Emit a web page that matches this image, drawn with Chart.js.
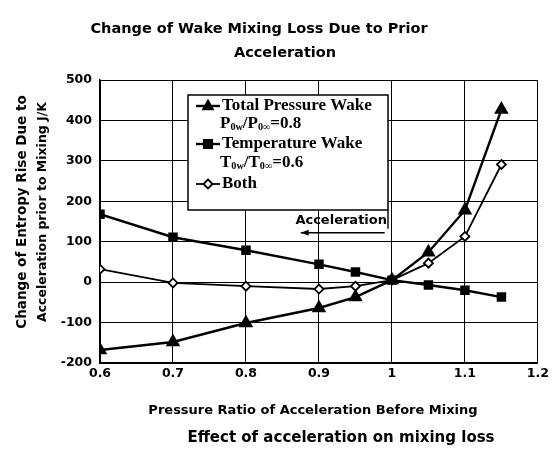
<!DOCTYPE html>
<html>
<head>
<meta charset="utf-8">
<script src="https://cdn.jsdelivr.net/npm/chart.js@4/dist/chart.umd.min.js"></script>
<style>
  html, body { margin: 0; padding: 0; background: #fff; }
  #wrap { width: 552px; height: 453px; }
</style>
</head>
<body>
<div id="wrap"><canvas id="c" width="552" height="453"></canvas></div>
<script>
// Pressure ratio of acceleration before mixing
const pressureRatio = [0.6, 0.7, 0.8, 0.9, 0.95, 1.0, 1.05, 1.1, 1.15];
// Change of entropy rise due to acceleration prior to mixing, J/K
const totalPressureWake = [-168, -148, -101, -64, -37, 5, 74, 178, 427];
const temperatureWake   = [168, 111, 79, 44, 25, 5, -7, -20, -37];
const bothWakes         = [32, -2, -10, -17, -10, 5, 47, 113, 291];

const xTicks = [0.6, 0.7, 0.8, 0.9, 1.0, 1.1, 1.2];
const yTicks = [-200, -100, 0, 100, 200, 300, 400, 500];

const titleLines = ['Change of Wake Mixing Loss Due to Prior', 'Acceleration'];
const yTitleLines = ['Change of Entropy Rise Due to', 'Acceleration prior to Mixing J/K'];
const xTitle = 'Pressure Ratio of Acceleration Before Mixing';
const caption = 'Effect of acceleration on mixing loss';
const arrowLabel = 'Acceleration';

const toPoints = ys => pressureRatio.map((x, i) => ({ x, y: ys[i] }));

const SANS = '"DejaVu Sans", "Liberation Sans", Arial, sans-serif';
const SERIF = '"Liberation Serif", "DejaVu Serif", serif';

const datasets = [
  {
    label: 'Total Pressure Wake',
    data: toPoints(totalPressureWake),
    borderColor: '#000', backgroundColor: '#000',
    borderWidth: 2.4, pointStyle: 'triangle', pointRadius: 6,
    pointBorderColor: '#000', pointBackgroundColor: '#000'
  },
  {
    label: 'Temperature Wake',
    data: toPoints(temperatureWake),
    borderColor: '#000', backgroundColor: '#000',
    borderWidth: 2.4, pointStyle: 'rect', pointRadius: 5,
    pointBorderColor: '#000', pointBackgroundColor: '#000'
  },
  {
    label: 'Both',
    data: toPoints(bothWakes),
    borderColor: '#000', backgroundColor: '#fff',
    borderWidth: 1.8, pointStyle: 'rectRot', pointRadius: 4.5,
    pointBorderWidth: 1.8,
    pointBorderColor: '#000', pointBackgroundColor: '#fff'
  }
];

// Draws a run of text pieces; pieces flagged sub are smaller and lowered.
function drawRich(ctx, x, y, pieces, size) {
  let cx = x;
  pieces.forEach(p => {
    const s = p.sub ? size * 0.6 : size;
    ctx.font = 'bold ' + s + 'px ' + SERIF;
    ctx.fillText(p.t, cx, p.sub ? y + size * 0.22 : y);
    cx += ctx.measureText(p.t).width;
  });
}

function drawMarker(ctx, style, x, y, r, fill) {
  ctx.save();
  ctx.fillStyle = fill; ctx.strokeStyle = '#000'; ctx.lineWidth = 1.8;
  ctx.beginPath();
  if (style === 'triangle') {
    ctx.moveTo(x, y - r); ctx.lineTo(x + r * 0.9, y + r * 0.6); ctx.lineTo(x - r * 0.9, y + r * 0.6); ctx.closePath();
  } else if (style === 'rect') {
    ctx.rect(x - r * 0.75, y - r * 0.75, r * 1.5, r * 1.5);
  } else {
    ctx.moveTo(x, y - r); ctx.lineTo(x + r, y); ctx.lineTo(x, y + r); ctx.lineTo(x - r, y); ctx.closePath();
  }
  ctx.fill(); ctx.stroke();
  ctx.restore();
}

const decorations = {
  id: 'decorations',
  afterDraw(chart) {
    const ctx = chart.ctx;
    const xs = chart.scales.x, ys = chart.scales.y;
    ctx.save();
    ctx.fillStyle = '#000';
    ctx.textBaseline = 'middle';
    ctx.textAlign = 'center';

    // chart title
    ctx.font = 'bold 14.5px ' + SANS;
    ctx.fillText(titleLines[0], 259, 29);
    ctx.fillText(titleLines[1], 285, 53);

    // y axis title (two rotated lines)
    ctx.save();
    ctx.translate(22, 212);
    ctx.rotate(-Math.PI / 2);
    ctx.font = 'bold 13.5px ' + SANS;
    ctx.fillText(yTitleLines[0], 0, 0);
    ctx.font = 'bold 12.5px ' + SANS;
    ctx.fillText(yTitleLines[1], 0, 21);
    ctx.restore();

    // x axis title and caption
    ctx.font = 'bold 13px ' + SANS;
    ctx.fillText(xTitle, 313, 411);
    ctx.font = 'bold 15px ' + SANS;
    ctx.fillText(caption, 341, 438);

    // legend box
    const lx = 188, ly = 95, lw = 200, lh = 115;
    ctx.fillStyle = '#fff';
    ctx.fillRect(lx, ly, lw, lh);
    ctx.strokeStyle = '#000'; ctx.lineWidth = 1.5;
    ctx.strokeRect(lx, ly, lw, lh);
    ctx.fillStyle = '#000';
    ctx.textAlign = 'left';
    const rows = [
      { ds: 0, y: 106, fill: '#000' },
      { ds: 1, y: 144, fill: '#000' },
      { ds: 2, y: 184, fill: '#fff' }
    ];
    rows.forEach(r => {
      const d = datasets[r.ds];
      ctx.strokeStyle = '#000'; ctx.lineWidth = d.borderWidth;
      ctx.beginPath(); ctx.moveTo(lx + 8, r.y); ctx.lineTo(lx + 32, r.y); ctx.stroke();
      drawMarker(ctx, d.pointStyle, lx + 20, r.y, d.pointStyle === 'rectRot' ? 4.5 : 5.5, r.fill);
      ctx.fillStyle = '#000';
      ctx.font = 'bold 17px ' + SERIF;
      ctx.fillText(d.label, lx + 34, r.y);
    });
    drawRich(ctx, lx + 32, 124, [{ t: 'P' }, { t: '0w', sub: true }, { t: '/P' }, { t: '0\u221E', sub: true }, { t: '=0.8' }], 17);
    drawRich(ctx, lx + 32, 163, [{ t: 'T' }, { t: '0w', sub: true }, { t: '/T' }, { t: '0\u221E', sub: true }, { t: '=0.6' }], 17);

    // acceleration direction arrow
    const ax1 = xs.getPixelForValue(0.875), ax2 = xs.getPixelForValue(0.99);
    const ay = ys.getPixelForValue(122);
    ctx.strokeStyle = '#000'; ctx.lineWidth = 1.4;
    ctx.beginPath(); ctx.moveTo(ax2, ay); ctx.lineTo(ax1, ay); ctx.stroke();
    ctx.beginPath();
    ctx.moveTo(ax1, ay); ctx.lineTo(ax1 + 8, ay - 3); ctx.lineTo(ax1 + 8, ay + 3); ctx.closePath(); ctx.fill();
    ctx.beginPath(); ctx.moveTo(lx + lw, ly + lh); ctx.lineTo(lx + lw, ay - 4); ctx.stroke();
    ctx.font = 'bold 13px ' + SANS;
    ctx.textAlign = 'right';
    ctx.fillText(arrowLabel, lx + lw - 1, ys.getPixelForValue(152));
    ctx.restore();
  }
};

new Chart(document.getElementById('c'), {
  type: 'line',
  data: { datasets },
  plugins: [decorations],
  options: {
    responsive: false,
    animation: false,
    events: [],
    layout: { padding: { top: 80, right: 12, left: 0, bottom: 0 } },
    plugins: { legend: { display: false }, tooltip: { enabled: false }, title: { display: false } },
    elements: { line: { tension: 0 } },
    scales: {
      x: {
        type: 'linear', min: 0.6, max: 1.2,
        afterBuildTicks: s => { s.ticks = xTicks.map(v => ({ value: v })); },
        afterFit: s => { s.height = 90; },
        ticks: {
          color: '#000', padding: 3,
          font: { family: SANS, weight: 'bold', size: 12.5 },
          callback: v => String(Math.round(v * 10) / 10)
        },
        grid: { color: '#000', lineWidth: 1, drawTicks: false },
        border: { color: '#000', width: 1.5 }
      },
      y: {
        type: 'linear', min: -200, max: 500,
        afterBuildTicks: s => { s.ticks = yTicks.map(v => ({ value: v })); },
        afterFit: s => { s.width = 100; },
        ticks: {
          color: '#000', padding: 8,
          font: { family: SANS, weight: 'bold', size: 12.5 },
          callback: v => String(v)
        },
        grid: { color: '#000', lineWidth: 1, drawTicks: false },
        border: { color: '#000', width: 1.5 }
      }
    }
  }
});
</script>
</body>
</html>
